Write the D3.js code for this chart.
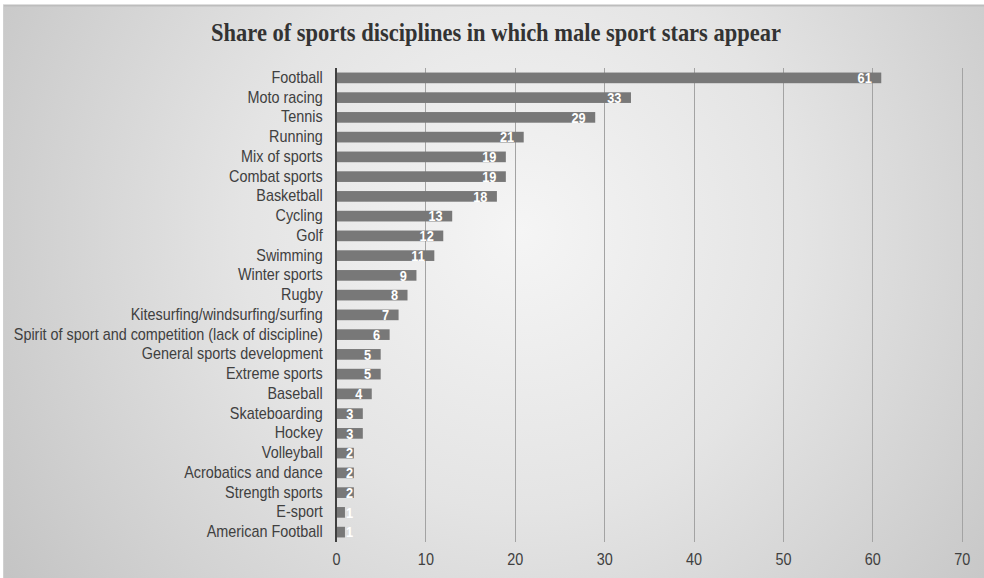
<!DOCTYPE html>
<html>
<head>
<meta charset="utf-8">
<script src="https://cdn.jsdelivr.net/npm/d3@7"></script>
<style>
  html, body { margin: 0; padding: 0; background: #ffffff; }
  svg { display: block; }
</style>
</head>
<body>
<svg id="chart" width="984" height="578"></svg>
<script>
// Sports disciplines and the number of appearances of male sport stars
const categories = [
  "Football", "Moto racing", "Tennis", "Running", "Mix of sports",
  "Combat sports", "Basketball", "Cycling", "Golf", "Swimming",
  "Winter sports", "Rugby", "Kitesurfing/windsurfing/surfing",
  "Spirit of sport and competition (lack of discipline)",
  "General sports development", "Extreme sports", "Baseball",
  "Skateboarding", "Hockey", "Volleyball", "Acrobatics and dance",
  "Strength sports", "E-sport", "American Football"
];
const values = [61, 33, 29, 21, 19, 19, 18, 13, 12, 11, 9, 8, 7, 6, 5, 5, 4, 3, 3, 2, 2, 2, 1, 1];
const xTicks = [0, 10, 20, 30, 40, 50, 60, 70];
const title = "Share of sports disciplines in which male sport stars appear";

const svg = d3.select("#chart");
const W = 984, H = 578;
const margin = { top: 68, right: 23, bottom: 36, left: 336 };
const squeeze = 0.9;   // horizontal text compression
const sans = "'Liberation Sans', Arial, sans-serif";

// Background panel with soft radial shading
const defs = svg.append("defs");
const grad = defs.append("radialGradient")
  .attr("id", "bg")
  .attr("gradientUnits", "userSpaceOnUse")
  .attr("cx", 520).attr("cy", 230).attr("r", 620);
grad.append("stop").attr("offset", "0%").attr("stop-color", "#f5f5f5");
grad.append("stop").attr("offset", "45%").attr("stop-color", "#e4e4e4");
grad.append("stop").attr("offset", "100%").attr("stop-color", "#c4c4c4");

svg.append("rect")
  .attr("x", 3).attr("y", 5)
  .attr("width", W - 3).attr("height", H - 5)
  .attr("fill", "url(#bg)");
svg.append("line")
  .attr("x1", 3).attr("x2", W).attr("y1", 5.5).attr("y2", 5.5)
  .attr("stroke", "#bdbdbd").attr("stroke-width", 2);
svg.append("line")
  .attr("x1", 3.5).attr("x2", 3.5).attr("y1", 5).attr("y2", H)
  .attr("stroke", "#d0d0d0").attr("stroke-width", 1);

// Scales
const x = d3.scaleLinear()
  .domain([0, 70])
  .range([margin.left, 961.7]);
const y = d3.scaleBand()
  .domain(categories)
  .range([margin.top, 542])
  .paddingInner(0.46)
  .paddingOuter(0.23);

// Vertical gridlines
svg.append("g")
  .selectAll("line")
  .data(xTicks.filter(t => t > 0))
  .join("line")
  .attr("x1", d => Math.round(x(d)) + 0.5)
  .attr("x2", d => Math.round(x(d)) + 0.5)
  .attr("y1", margin.top)
  .attr("y2", 542)
  .attr("stroke", "#a3a3a3")
  .attr("stroke-width", 1);

// Bottom axis labels
const xAxis = d3.axisBottom(x)
  .tickValues(xTicks)
  .tickSize(0)
  .tickPadding(0);
const gx = svg.append("g")
  .attr("transform", "translate(0,548)")
  .call(xAxis);
gx.select(".domain").remove();
gx.selectAll("text")
  .attr("dy", "0")
  .attr("y", 17.5)
  .attr("transform", `scale(${squeeze},1)`)
  .attr("fill", "#404040")
  .style("font-family", sans)
  .style("font-size", "16px");

// Bars
svg.append("g")
  .selectAll("rect")
  .data(categories)
  .join("rect")
  .attr("x", x(0))
  .attr("y", d => y(d))
  .attr("width", (d, i) => x(values[i]) - x(0))
  .attr("height", y.bandwidth())
  .attr("fill", "#787878");

// Value labels inside the bar ends
svg.append("g")
  .selectAll("text")
  .data(categories)
  .join("text")
  .attr("transform", (d, i) =>
    `translate(${Math.max(x(values[i]) - 9.5, x(0) + 17)},${y(d) + y.bandwidth() / 2}) scale(0.88,1)`)
  .attr("dy", "0.37em")
  .attr("text-anchor", "end")
  .attr("fill", "#ffffff")
  .style("font-family", sans)
  .style("font-size", "14.5px")
  .style("font-weight", "bold")
  .text((d, i) => values[i]);

// Category axis
const yAxis = d3.axisLeft(y).tickSize(0).tickPadding(13.3);
const gy = svg.append("g")
  .attr("transform", `translate(${margin.left},0)`)
  .call(yAxis);
gy.select(".domain").remove();
gy.selectAll("text")
  .attr("x", -13.3 / squeeze)
  .attr("transform", `scale(${squeeze},1)`)
  .attr("fill", "#404040")
  .style("font-family", sans)
  .style("font-size", "16px");
svg.append("line")
  .attr("x1", margin.left).attr("x2", margin.left)
  .attr("y1", margin.top).attr("y2", 542)
  .attr("stroke", "#404040")
  .attr("stroke-width", 2);

// Title
svg.append("text")
  .attr("transform", "translate(496,41) scale(0.9,1)")
  .attr("text-anchor", "middle")
  .attr("fill", "#333333")
  .style("font-family", "'Liberation Serif', 'Times New Roman', serif")
  .style("font-size", "25px")
  .style("font-weight", "bold")
  .text(title);
</script>
</body>
</html>
